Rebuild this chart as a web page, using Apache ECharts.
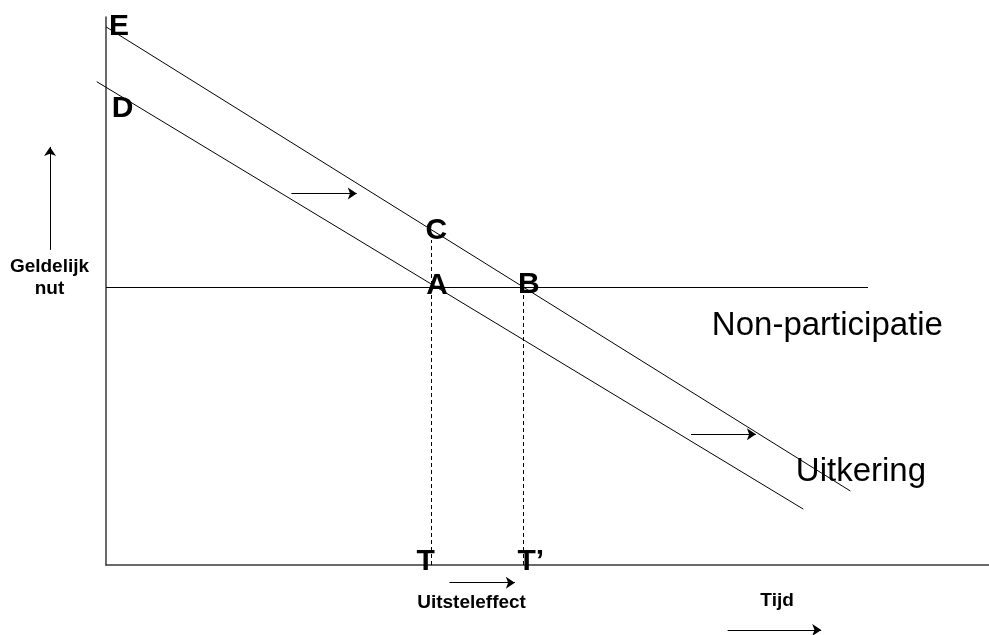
<!DOCTYPE html>
<html>
<head>
<meta charset="utf-8">
<script src="https://cdn.jsdelivr.net/npm/echarts@6/dist/echarts.min.js"></script>
<style>html,body{margin:0;padding:0;background:#fff}#c{width:989px;height:635px}</style>
</head>
<body>
<div id="c"></div>
<script>
// Schematic values (abstract units: x = tijd 0..100, y = geldelijk nut 0..100)
const uitkeringLineNew = [[0, 98.2], [84.3, 13.5]];      // line through E
const uitkeringLineOld = [[-1.05, 88.2], [78.97, 10.2]]; // line through D
const nonParticipatie = [[0, 50.7], [86.3, 50.7]];
const dashT = [[36.8, 0], [36.8, 59.3]];
const dashT2 = [[47.3, 0], [47.3, 50.7]];
const arrows = [
  [[21.0, 67.8], [28.4, 67.8]],
  [[66.25, 23.85], [73.6, 23.85]],
  [[38.9, -3.23], [46.3, -3.23]],
  [[70.4, -11.86], [81.0, -11.86]],
  [[-6.34, 57.5], [-6.34, 76.3]]
];
const pointLabels = [
  { name: 'E', value: [1.47, 98.3] },
  { name: 'D', value: [1.87, 83.3] },
  { name: 'C', value: [37.4, 60.95] },
  { name: 'A', value: [37.5, 50.9] },
  { name: 'B', value: [47.9, 51.1] },
  { name: 'T', value: [36.2, 0.64] },
  { name: 'T\u2019', value: [48.1, 0.64] }
];
const smallLabels = [
  { name: 'Uitsteleffect', value: [41.4, -6.93] },
  { name: 'Tijd', value: [76.0, -6.57] },
  { name: 'Geldelijk\nnut', value: [-6.4, 52.4] }
];
const bigLabels = [
  { name: 'Non-participatie', value: [81.7, 43.6] },
  { name: 'Uitkering', value: [85.5, 17.0] }
];

const FONT = '"Liberation Sans", Arial, sans-serif';
const chart = echarts.init(document.getElementById('c'), null, { renderer: 'canvas' });

function segSeries(segs, dashed) {
  return {
    type: 'lines', coordinateSystem: 'cartesian2d', clip: false, silent: true, animation: false,
    polyline: false, symbol: 'none',
    lineStyle: { color: '#000', width: 1, opacity: 1, type: dashed ? [4, 3] : 'solid' },
    data: segs.map(s => ({ coords: s }))
  };
}
function labelSeries(data, size, weight) {
  return {
    type: 'scatter', data: data, symbolSize: 0, clip: false, silent: true, animation: false,
    itemStyle: { opacity: 1 },
    label: {
      show: true, position: 'inside', formatter: '{b}', opacity: 1,
      fontFamily: FONT, fontSize: size, fontWeight: weight, color: '#000',
      textBorderWidth: 0,
      align: 'center', verticalAlign: 'middle', lineHeight: Math.round(size * 1.15)
    },
    emphasis: { disabled: true }
  };
}

chart.setOption({
  animation: false,
  backgroundColor: '#fff',
  grid: { left: 106, right: 0, top: 17, bottom: 70 },
  xAxis: {
    type: 'value', min: 0, max: 100,
    axisLine: { show: true, lineStyle: { color: '#3a3a3a', width: 1.5 } },
    axisTick: { show: false }, axisLabel: { show: false }, splitLine: { show: false }
  },
  yAxis: {
    type: 'value', min: 0, max: 100,
    axisLine: { show: true, lineStyle: { color: '#3a3a3a', width: 1.5 } },
    axisTick: { show: false }, axisLabel: { show: false }, splitLine: { show: false }
  },
  series: [
    segSeries([uitkeringLineNew, uitkeringLineOld, nonParticipatie]),
    segSeries([dashT, dashT2], true),
    {
      type: 'lines', coordinateSystem: 'cartesian2d', clip: false, silent: true, animation: false,
      polyline: false,
      symbol: ['none', 'arrow'], symbolSize: 9,
      lineStyle: { color: '#000', width: 1, opacity: 1 },
      data: arrows.map(a => ({ coords: a }))
    },
    labelSeries(pointLabels, 30, 'bold'),
    labelSeries(smallLabels, 19, 'bold'),
    labelSeries(bigLabels, 33, 'normal')
  ]
});
</script>
</body>
</html>
